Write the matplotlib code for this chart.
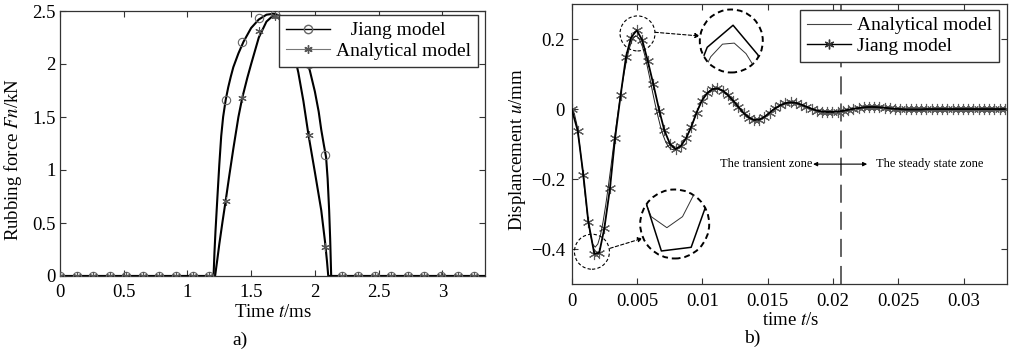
import numpy as np
import matplotlib
matplotlib.use("Agg")
import matplotlib.pyplot as plt
from matplotlib.lines import Line2D
from matplotlib.patches import Circle, FancyArrowPatch
from matplotlib.transforms import IdentityTransform
from matplotlib.ticker import FuncFormatter

plt.rcParams['font.family'] = ['Liberation Serif', 'DejaVu Serif']
plt.rcParams['mathtext.fontset'] = 'stix'

# a) rubbing force (time in ms, force in kN)
jiang_t = [0, 1.205, 1.212, 1.22, 1.235, 1.25, 1.265, 1.28, 1.30, 1.32, 1.34, 1.36, 1.40,
           1.44, 1.50, 1.56, 1.62, 1.68, 1.74, 1.80, 1.86, 1.92, 1.96, 2.00, 2.03, 2.05,
           2.07, 2.088, 2.10, 2.112, 2.12, 2.128, 3.34]
jiang_fn = [0, 0, 0.22, 0.42, 0.74, 1.05, 1.32, 1.50, 1.66, 1.78, 1.88, 1.97, 2.10,
            2.21, 2.34, 2.42, 2.465, 2.475, 2.45, 2.37, 2.25, 2.08, 1.94, 1.74, 1.55, 1.38,
            1.24, 1.12, 0.92, 0.62, 0.35, 0, 0]
ana_t = [0, 1.217, 1.235, 1.25, 1.275, 1.30, 1.33, 1.36, 1.40, 1.43, 1.47, 1.50, 1.56,
         1.62, 1.675, 1.73, 1.77, 1.80, 1.84, 1.87, 1.91, 1.95, 2.00, 2.05, 2.08, 2.095,
         2.105, 3.34]
ana_fn = [0, 0, 0.16, 0.30, 0.51, 0.71, 0.96, 1.20, 1.50, 1.68, 1.87, 2.00, 2.25,
          2.40, 2.46, 2.42, 2.34, 2.24, 2.08, 1.92, 1.65, 1.33, 0.98, 0.62, 0.32, 0.14,
          0, 0]

mark_t = [0, 0.13, 0.26, 0.39, 0.52, 0.65, 0.78, 0.91, 1.04, 1.17, 1.30, 1.43, 1.56,
          1.69, 1.82, 1.95, 2.08, 2.21, 2.34, 2.47, 2.60, 2.73, 2.86, 2.99, 3.12, 3.25]
jiang_mark = [0, 0, 0, 0, 0, 0, 0, 0, 0, 0, 1.66, 2.21, 2.43,
              2.47, 2.33, 2.00, 1.14, 0, 0, 0, 0, 0, 0, 0, 0, 0]
ana_mark = [0, 0, 0, 0, 0, 0, 0, 0, 0, 0, 0.71, 1.68, 2.31,
            2.45, 2.10, 1.33, 0.27, 0, 0, 0, 0, 0, 0, 0, 0, 0]

# b) displacement (time in s, displacement in mm)
disp_t = [0.0, 0.00046, 0.00089, 0.00127, 0.00173, 0.00211, 0.0025, 0.00293, 0.00332,
          0.00375, 0.00416, 0.00454, 0.00498, 0.0054, 0.00582, 0.00625, 0.00671, 0.00709,
          0.00753, 0.00796, 0.00836, 0.00876, 0.00916, 0.00956, 0.00996,
          0.01036, 0.01076, 0.01116, 0.01156, 0.01196, 0.01236, 0.01276, 0.01316, 0.01356,
          0.01396, 0.01436, 0.01476, 0.01516, 0.01556, 0.01596, 0.01636, 0.01676, 0.01716,
          0.01756, 0.01796, 0.01836, 0.01876, 0.01916, 0.01956, 0.01996, 0.02036, 0.02076,
          0.02116, 0.02156, 0.02196, 0.02236, 0.02276, 0.02316, 0.02356, 0.02396, 0.02436,
          0.02476, 0.02516, 0.02556, 0.02596, 0.02636, 0.02676, 0.02716, 0.02756, 0.02796,
          0.02836, 0.02876, 0.02916, 0.02956, 0.02996, 0.03036, 0.03076, 0.03116, 0.03156,
          0.03196, 0.03236, 0.03276, 0.03316]
jiang_u = [0, -0.062, -0.187, -0.321, -0.413, -0.41, -0.34, -0.226, -0.083,
           0.041, 0.15, 0.204, 0.225, 0.197, 0.138, 0.071, -0.005, -0.06,
           -0.1, -0.114, -0.105, -0.083, -0.05, -0.01, 0.024,
           0.045, 0.057, 0.059, 0.053, 0.040, 0.024, 0.006, -0.011, -0.024,
           -0.031, -0.030, -0.022, -0.010, 0.002, 0.011, 0.017, 0.019, 0.018,
           0.013, 0.007, 0.001, -0.004, -0.007, -0.008, -0.008, -0.007, -0.005,
           -0.002, 0.001, 0.003, 0.005, 0.006, 0.006, 0.005, 0.004, 0.002,
           0.001, 0.0, -0.001, -0.001, -0.001, -0.001, 0.0, 0.0, 0.0,
           0.0, 0.0, 0.0, 0.0, 0.0, 0.0, 0.0, 0.0, 0.0,
           0.0, 0.0, 0.0, 0.0]
# analytical curve differs only in the first ~8 ms, then follows the Jiang curve
ana_early_t = [0, 0.0002, 0.0004, 0.0006, 0.0008, 0.001, 0.0012, 0.0014, 0.0016, 0.0018,
               0.002, 0.0022, 0.0024, 0.0026, 0.0028, 0.003, 0.0032, 0.0034, 0.0036, 0.0038,
               0.004, 0.0042, 0.0044, 0.0046, 0.0048, 0.005, 0.0052, 0.0054, 0.0056, 0.0058,
               0.006, 0.0062, 0.0064, 0.0066, 0.0068, 0.007, 0.0072, 0.0074, 0.0076, 0.0078]
ana_early_u = [0, -0.012, -0.045, -0.1, -0.165, -0.235, -0.3, -0.352, -0.385, -0.394,
               -0.385, -0.36, -0.322, -0.275, -0.222, -0.165, -0.105, -0.048, 0.005, 0.055,
               0.1, 0.14, 0.172, 0.195, 0.207, 0.208, 0.198, 0.18, 0.153, 0.12,
               0.085, 0.047, 0.012, -0.02, -0.05, -0.075, -0.094, -0.107, -0.114, -0.116]
ana_u_t = ana_early_t + disp_t[20:]
ana_u = ana_early_u + jiang_u[20:]

steady_start = 0.02062   # boundary transient / steady state

FS = 13.5
W, H = 1015, 355
fig = plt.figure(figsize=(W / 100, H / 100), dpi=100)
fmt = FuncFormatter(lambda v, _: ('%g' % v).replace('-', '\u2212'))


def style_axes(ax, xpad, ypad):
    for s in ax.spines.values():
        s.set_color('#333333')
        s.set_linewidth(0.9)
    ax.tick_params(direction='in', top=True, right=True, length=4, width=0.8,
                   colors='#333333', labelcolor='black', labelsize=FS)
    ax.tick_params(axis='x', pad=xpad)
    ax.tick_params(axis='y', pad=ypad)
    ax.xaxis.set_major_formatter(fmt)
    ax.yaxis.set_major_formatter(fmt)


# ---------------- a) ----------------
ax1 = fig.add_axes([60 / W, 79 / H, 425 / W, 265 / H])
ax1.plot(jiang_t, jiang_fn, color='black', lw=1.5, zorder=2)
ax1.plot(ana_t, ana_fn, color='black', lw=1.5, zorder=2)
ax1.plot(mark_t, jiang_mark, ls='none', marker='o', ms=6, mfc='none', mec='#666666',
         mew=0.8, zorder=3)
ax1.plot(mark_t, ana_mark, ls='none', marker=(6, 2, 0), ms=6, color='#555555',
         mew=0.8, zorder=3)
ax1.set_xlim(0, 3.335)
ax1.set_ylim(0, 2.5)
ax1.set_xticks([0, 0.5, 1, 1.5, 2, 2.5, 3])
ax1.set_yticks([0, 0.5, 1, 1.5, 2, 2.5])
style_axes(ax1, 6, 3)
ax1.set_xlabel('Time $t$/ms', fontsize=FS)
ax1.set_ylabel('Rubbing force $Fn$/kN', fontsize=FS)
ax1.xaxis.set_label_coords(0.5, -0.138)
ax1.xaxis.label.set_va('center')
ax1.yaxis.set_label_coords(-0.111, 0.438)
ax1.yaxis.label.set_va('center')
h1 = [Line2D([], [], color='black', lw=1.0, marker='o', ms=6, mfc='none', mec='#666666'),
      Line2D([], [], color='#777777', lw=0.8, marker=(6, 2, 0), ms=6, mec='#555555')]
ax1.legend(h1, ['   Jiang model', 'Analytical model'], loc='upper right',
           bbox_to_anchor=(0.9835, 0.985), borderaxespad=0, fontsize=14,
           fancybox=False, framealpha=1, edgecolor='#333333', handlelength=2.3,
           handletextpad=0.3, labelspacing=0.15, borderpad=0.35)
fig.text(240 / W, 1 - 340 / H, 'a)', fontsize=FS + 0.5, ha='center', va='center')

# ---------------- b) ----------------
ax2 = fig.add_axes([571.7 / W, 70.7 / H, 435.6 / W, 280.3 / H])
ax2.plot(disp_t, jiang_u, ls='none', marker=(6, 2, 0), ms=8, color='#5a5a5a', mew=0.8,
         zorder=2)
ax2.plot(ana_u_t, ana_u, color='#222222', lw=0.7, zorder=3)
ax2.plot(disp_t, jiang_u, color='black', lw=1.3, zorder=3)
ax2.axvline(steady_start, color='#555555', lw=1.3, ls=(0, (10, 5)), zorder=1)
ax2.set_xlim(0, 0.03335)
ax2.set_ylim(-0.5, 0.3)
ax2.set_xticks([0, 0.005, 0.01, 0.015, 0.02, 0.025, 0.03])
ax2.set_yticks([-0.4, -0.2, 0, 0.2])
style_axes(ax2, 6.5, 5)
ax2.set_xlabel('time $t$/s', fontsize=FS)
ax2.set_ylabel('Displancement $u$/mm', fontsize=FS)
ax2.xaxis.set_label_coords(0.503, -0.128)
ax2.xaxis.label.set_va('center')
ax2.yaxis.set_label_coords(-0.124, 0.479)
ax2.yaxis.label.set_va('center')
h2 = [Line2D([], [], color='#444444', lw=0.8),
      Line2D([], [], color='black', lw=1.0, marker=(6, 2, 0), ms=7, mec='#333333')]
ax2.legend(h2, ['Analytical model', 'Jiang model'], loc='upper right',
           bbox_to_anchor=(0.981, 0.9786), borderaxespad=0, fontsize=14,
           fancybox=False, framealpha=1, edgecolor='#333333', handlelength=2.3,
           handletextpad=0.3, labelspacing=0.15, borderpad=0.35)

zone_u = -0.157
ax2.text(0.01845, zone_u, 'The transient zone', ha='right', va='center', fontsize=9)
ax2.text(0.02328, zone_u, 'The steady state zone', ha='left', va='center', fontsize=9)
ax2.annotate('', xy=(0.01848, zone_u), xytext=(0.02262, zone_u),
             arrowprops=dict(arrowstyle='<|-|>', lw=0.8, color='black',
                             mutation_scale=6, shrinkA=0, shrinkB=0))


def mark_circle(ax, t, u, r_px):
    x, y = ax.transData.transform((t, u))
    ax.add_patch(Circle((x, y), r_px, transform=IdentityTransform(), fill=False,
                        ls=(0, (3, 2)), lw=0.8, ec='black', zorder=5))


def zoom_inset(centre_px, r_px, window, mag_x, mag_y):
    cx, cy = centre_px
    axin = fig.add_axes([(cx - r_px) / W, (H - cy - r_px) / H, 2 * r_px / W, 2 * r_px / H])
    sx = ax2.bbox.width / np.ptp(ax2.get_xlim())
    sy = ax2.bbox.height / np.ptp(ax2.get_ylim())
    tc, uc = window
    axin.set_xlim(tc - r_px / mag_x / sx, tc + r_px / mag_x / sx)
    axin.set_ylim(uc - r_px / mag_y / sy, uc + r_px / mag_y / sy)
    axin.axis('off')
    clip = Circle((0.5, 0.5), 0.5, transform=axin.transAxes)
    ring = Circle((0.5, 0.5), 0.5, transform=axin.transAxes, fill=False,
                  ls=(0, (3, 2)), lw=1.4, ec='black', clip_on=False)
    axin.add_patch(ring)
    l1, = axin.plot(ana_u_t, ana_u, color='#333333', lw=0.7)
    l2, = axin.plot(disp_t, jiang_u, color='black', lw=1.1)
    l1.set_clip_path(clip)
    l2.set_clip_path(clip)


mark_circle(ax2, 0.00504, 0.216, 17.5)
mark_circle(ax2, 0.00155, -0.407, 17.5)
zoom_inset((731.3, 41), 31.5, (0.00495, 0.21), 4.5, 3.0)
zoom_inset((674.7, 224), 34.5, (0.0019, -0.391), 6.0, 3.5)

for (x0, y0), (x1, y1) in [((655, 32.3), (700, 36)), ((610, 248.3), (642.7, 238.3))]:
    fig.add_artist(FancyArrowPatch(
        (x0, H - y0), (x1, H - y1), transform=IdentityTransform(),
        arrowstyle='-|>', mutation_scale=7, ls=(0, (3, 2)), lw=0.8, color='black',
        shrinkA=0, shrinkB=0))

fig.text(752 / W, 1 - 338 / H, 'b)', fontsize=FS + 0.5, ha='center', va='center')

fig.savefig('out.png', dpi=100)
